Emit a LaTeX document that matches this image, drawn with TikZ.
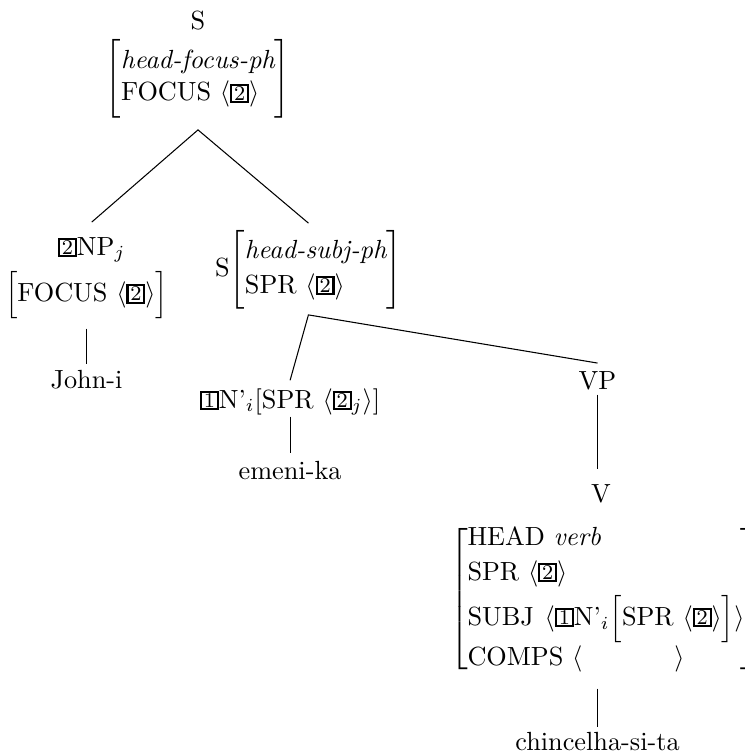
\documentclass[tikz,border=0pt]{standalone}
\usepackage{amsmath}
\usetikzlibrary{calc}
\newcommand{\tg}[1]{\mbox{\setlength{\fboxsep}{0pt}\setlength{\fboxrule}{0.8pt}\fbox{\makebox[5.6pt]{\rule{0pt}{5.8pt}\raisebox{0.3pt}{\footnotesize #1}}}}}
\tikzset{
  lab/.style={inner sep=0pt, outer sep=0pt},
  edge/.style={line width=0.4pt}
}
\begin{document}
\begin{tikzpicture}[x=0.3808pt, y=-0.3808pt]
\useasboundingbox (0,0) rectangle (744,755);
% top S
\node[lab] (sTop) at (198,21) {S};
\node[lab] (avmTop) at (198,78.5) {$\Bigg[\begin{array}{@{}l@{}}\mbox{\itshape head-focus-ph}\\[0.3pt]\mbox{FOCUS }\langle\tg{2}\rangle\end{array}\Bigg]$};
% NP
\node[lab, anchor=base west] (npLab) at (58,255) {\tg{2}NP$_j$};
\node[lab, anchor=east] (avmNP) at (168,295) {$\Big[\mbox{FOCUS }\langle\tg{2}\rangle\Big]$};
\node[lab, anchor=base] (john) at (avmNP.south |- 0,388) {John-i};
% S head-subj
\node[lab, anchor=west] (s2) at (215,269.5) {S$\Bigg[\begin{array}{@{}l@{}}\mbox{\itshape head-subj-ph}\\[1.3pt]\mbox{SPR }\langle\tg{2}\rangle\end{array}\Bigg]$};
% N'
\node[lab, anchor=base west] (nbar) at (200,408) {\tg{1}N'$_i$[SPR $\langle\tg{2}_j\rangle$]};
\node[lab, anchor=base] (emeni) at (nbar.south |- 0,479) {emeni-ka};
% VP and V
\node[lab, anchor=base] (vp) at (597.5,389) {VP};
\node[lab, anchor=base] (vLab) at (601,502) {V};
\node[lab, anchor=west] (avmV) at (450,599) {$\left[\begin{array}{@{}l@{\hspace{-1.5pt}}}
  \mbox{HEAD \textit{verb}}\\[1.3pt]
  \mbox{SPR }\langle\tg{2}\rangle\\[2pt]
  \mbox{SUBJ\hspace{0.8pt} }\langle\tg{1}\mbox{N'}_i\Big[\mbox{SPR }\langle\tg{2}\rangle\Big]\rangle\\[3.2pt]
  \mbox{COMPS }\langle\hspace{35pt}\rangle
\end{array}\right]$};
\node[lab, anchor=base] (chin) at (597.5,750) {chincelha-si-ta};
% edges
\draw[edge] ($(npLab.north)+(0,-15)$) -- ($(avmTop.south)+(0,12)$) -- ($(s2.north)+(0,-7)$);
\draw[edge] ($(avmNP.south)+(0,10)$) -- ($(john.north)+(0,-6)$);
\draw[edge] ($(nbar.north)+(0,-8)$) -- ($(s2.south)+(0,6)$) -- ($(vp.north)+(0,-8)$);
\draw[edge] ($(emeni.north |- nbar.south)+(0,1)$) -- ($(emeni.north)+(0,-8)$);
\draw[edge] ($(vp.south)+(0,5)$) -- ($(vp.south |- vLab.north)+(0,-15)$);
\draw[edge] ($(chin.north |- avmV.south)+(0,14)$) -- ($(chin.north)+(0,-5)$);
\end{tikzpicture}
\end{document}
